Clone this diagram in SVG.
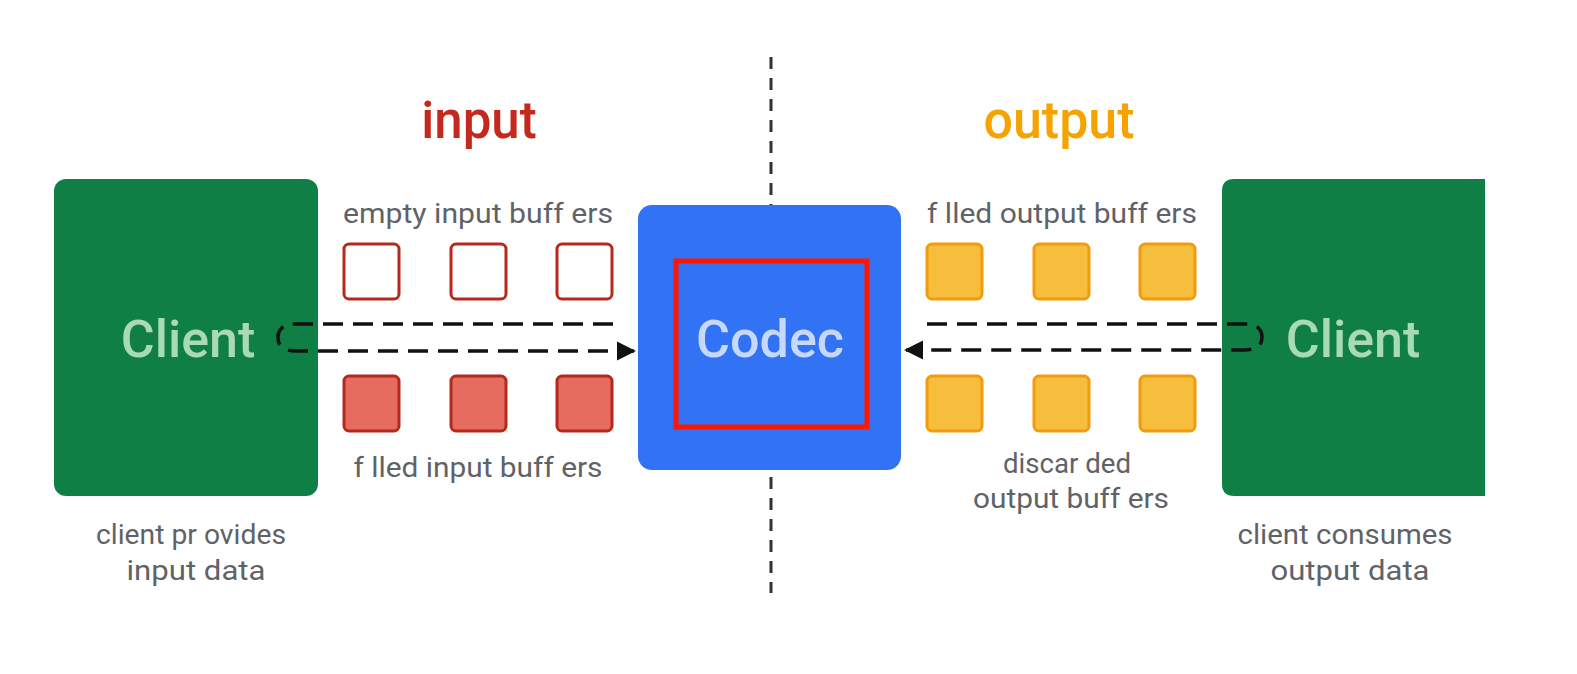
<svg xmlns="http://www.w3.org/2000/svg" width="1577" height="674" viewBox="0 0 1577 674">
<style>
.client{fill:#0f7f45}
.clientTxt{font-family:Roboto,"Liberation Sans",sans-serif;font-size:52px;font-weight:500;fill:#a8dbb4;text-anchor:middle}
.lbl{font-family:Roboto,"Liberation Sans",sans-serif;font-size:28px;fill:#5f6368;text-anchor:middle}
.title{font-family:Roboto,"Liberation Sans",sans-serif;font-size:51px;font-weight:500;text-anchor:middle}
.inE{fill:#ffffff;stroke:#b5291c;stroke-width:3}
.inF{fill:#e66c5f;stroke:#b5291c;stroke-width:3}
.outF{fill:#f7bd3c;stroke:#f29b0c;stroke-width:3}
.flow{fill:none;stroke:#111;stroke-width:3.5;stroke-dasharray:20 10}
</style>
<defs>
<marker id="arr" viewBox="0 0 10 10" refX="9" refY="5" markerWidth="5.5" markerHeight="5.5" markerUnits="strokeWidth" orient="auto">
<path d="M0,0 L10,5 L0,10 z" fill="#111"/>
</marker>
</defs>
<rect width="1577" height="674" fill="#ffffff"/>
<g id="divider">
<line x1="771" y1="57" x2="771" y2="593" stroke="#333" stroke-width="3" stroke-dasharray="12 9"/>
</g>
<g id="title-input"><text class="title" x="479" y="138" fill="#c5281c">input</text></g>
<g id="title-output"><text class="title" x="1059" y="138" fill="#f4a300" textLength="151" lengthAdjust="spacingAndGlyphs">output</text></g>
<g id="client-left">
<rect class="client" x="54" y="179" width="264" height="317" rx="12"/>
<text class="clientTxt" x="188" y="357">Client</text>
</g>
<g id="client-right">
<path class="client" d="M1234,179 H1485 V496 H1234 Q1222,496 1222,484 V191 Q1222,179 1234,179 Z"/>
<text class="clientTxt" x="1353" y="357">Client</text>
</g>
<g id="codec">
<rect x="638" y="205" width="263" height="265" rx="14" fill="#3272f5"/>
<rect x="676" y="261" width="191" height="166" fill="none" stroke="#ff1500" stroke-width="5"/>
<text x="770" y="357" font-family="Roboto,'Liberation Sans',sans-serif" font-size="52" font-weight="500" fill="#c6d9fc" text-anchor="middle" textLength="148" lengthAdjust="spacingAndGlyphs">Codec</text>
</g>
<g id="empty-input-buffers">
<text class="lbl" x="478" y="223" textLength="270" lengthAdjust="spacingAndGlyphs">empty input buff ers</text>
<rect class="inE" x="344" y="244" width="55" height="55" rx="5"/>
<rect class="inE" x="451" y="244" width="55" height="55" rx="5"/>
<rect class="inE" x="557" y="244" width="55" height="55" rx="5"/>
</g>
<g id="filled-input-buffers">
<rect class="inF" x="344" y="376" width="55" height="55" rx="5"/>
<rect class="inF" x="451" y="376" width="55" height="55" rx="5"/>
<rect class="inF" x="557" y="376" width="55" height="55" rx="5"/>
<text class="lbl" x="478" y="477" textLength="249" lengthAdjust="spacingAndGlyphs">f lled input buff ers</text>
</g>
<g id="filled-output-buffers">
<text class="lbl" x="1062" y="223" textLength="270" lengthAdjust="spacingAndGlyphs">f lled output buff ers</text>
<rect class="outF" x="927" y="244" width="55" height="55" rx="5"/>
<rect class="outF" x="1034" y="244" width="55" height="55" rx="5"/>
<rect class="outF" x="1140" y="244" width="55" height="55" rx="5"/>
</g>
<g id="discarded-output-buffers">
<rect class="outF" x="927" y="376" width="55" height="55" rx="5"/>
<rect class="outF" x="1034" y="376" width="55" height="55" rx="5"/>
<rect class="outF" x="1140" y="376" width="55" height="55" rx="5"/>
<text class="lbl" x="1067" y="473" textLength="128" lengthAdjust="spacingAndGlyphs">discar ded</text>
<text class="lbl" x="1071" y="508" textLength="196" lengthAdjust="spacingAndGlyphs">output buff ers</text>
</g>
<g id="caption-left">
<text class="lbl" x="191" y="544" textLength="190" lengthAdjust="spacingAndGlyphs">client pr ovides</text>
<text class="lbl" x="196" y="580" textLength="139" lengthAdjust="spacingAndGlyphs">input data</text>
</g>
<g id="caption-right">
<text class="lbl" x="1345" y="544" textLength="215" lengthAdjust="spacingAndGlyphs">client consumes</text>
<text class="lbl" x="1350" y="580" textLength="159" lengthAdjust="spacingAndGlyphs">output data</text>
</g>
<g id="connectors">
<path class="flow" d="M613,324 H296 Q278,324 278,337.5 Q278,351 296,351 H634" marker-end="url(#arr)"/>
<path class="flow" d="M927,324 H1244 Q1262,324 1262,337 Q1262,350 1244,350 H906" marker-end="url(#arr)"/>
</g>
</svg>
